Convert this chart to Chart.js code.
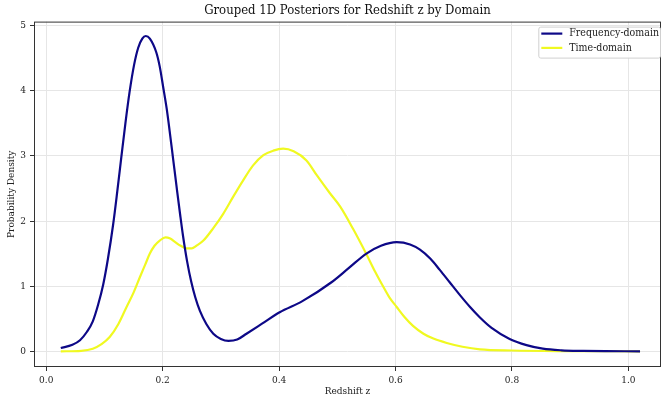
<!DOCTYPE html>
<html>
<head>
<meta charset="utf-8">
<script src="https://cdn.jsdelivr.net/npm/chart.js@4.4.0/dist/chart.umd.min.js"></script>
<style>
  html, body { margin: 0; padding: 0; background: #fff; }
</style>
</head>
<body>
<canvas id="posteriorChart" width="663" height="398"></canvas>
<script>
// Frequency-domain posterior
const freqZ = [0.025, 0.045, 0.058, 0.07, 0.08, 0.089, 0.098, 0.106, 0.115, 0.122, 0.129, 0.136, 0.143, 0.151, 0.158, 0.165, 0.171, 0.178, 0.189, 0.195, 0.201, 0.207, 0.212, 0.218, 0.224, 0.23, 0.235, 0.242, 0.249, 0.256, 0.264, 0.275, 0.287, 0.3, 0.313, 0.328, 0.344, 0.37, 0.401, 0.44, 0.49, 0.52, 0.55, 0.575, 0.602, 0.625, 0.642, 0.66, 0.676, 0.693, 0.71, 0.728, 0.745, 0.765, 0.796, 0.825, 0.853, 0.885, 0.922, 0.96, 1.02];
const freqDensity = [0.05, 0.1, 0.17, 0.3, 0.46, 0.71, 1.03, 1.42, 1.95, 2.45, 2.98, 3.5, 3.97, 4.4, 4.66, 4.8, 4.84, 4.8, 4.59, 4.37, 4.05, 3.72, 3.38, 2.95, 2.52, 2.1, 1.77, 1.38, 1.07, 0.83, 0.62, 0.42, 0.27, 0.19, 0.16, 0.18, 0.27, 0.42, 0.6, 0.77, 1.06, 1.28, 1.5, 1.62, 1.675, 1.64, 1.56, 1.42, 1.25, 1.06, 0.87, 0.68, 0.52, 0.36, 0.19, 0.095, 0.04, 0.015, 0.006, 0.002, 0.0];

// Time-domain posterior
const timeZ = [0.025, 0.06, 0.08, 0.095, 0.109, 0.124, 0.138, 0.15, 0.161, 0.17, 0.178, 0.186, 0.195, 0.205, 0.213, 0.221, 0.231, 0.241, 0.25, 0.258, 0.27, 0.287, 0.304, 0.321, 0.338, 0.355, 0.373, 0.39, 0.407, 0.425, 0.447, 0.465, 0.487, 0.505, 0.527, 0.55, 0.565, 0.579, 0.59, 0.602, 0.615, 0.63, 0.648, 0.665, 0.688, 0.715, 0.745, 0.8, 0.9, 1.02];
const timeDensity = [0.0, 0.008, 0.04, 0.11, 0.22, 0.42, 0.68, 0.9, 1.14, 1.33, 1.5, 1.62, 1.7, 1.75, 1.73, 1.68, 1.62, 1.58, 1.58, 1.62, 1.7, 1.89, 2.11, 2.37, 2.62, 2.85, 3.01, 3.08, 3.11, 3.07, 2.93, 2.7, 2.43, 2.22, 1.88, 1.49, 1.22, 0.99, 0.82, 0.68, 0.53, 0.39, 0.27, 0.195, 0.128, 0.07, 0.03, 0.012, 0.003, 0.0];

const seriesLabels = ['Frequency-domain', 'Time-domain'];
const xTicks = [0.0, 0.2, 0.4, 0.6, 0.8, 1.0];
const yTicks = [0, 1, 2, 3, 4, 5];

const FONT = "'DejaVu Serif Condensed', 'Liberation Serif', serif";
Chart.defaults.font.family = FONT;
Chart.defaults.color = '#222';

function toPoints(xs, ys) {
    return xs.map((x, i) => ({ x: x, y: ys[i] }));
}

// matplotlib-style full frame around the plot
const framePlugin = {
    id: 'frame',
    afterDatasetsDraw(chart) {
        const { ctx, chartArea: a } = chart;
        ctx.save();
        ctx.strokeStyle = '#333';
        ctx.lineWidth = 1;
        ctx.strokeRect(a.left + 0.5, a.top + 0.5, a.right - a.left - 1, a.bottom - a.top - 1);
        ctx.restore();
    }
};

// legend inside the upper-right corner
const innerLegend = {
    id: 'innerLegend',
    afterDraw(chart) {
        const { ctx, chartArea: a } = chart;
        ctx.save();
        ctx.font = "10.5px " + FONT;
        const sets = chart.data.datasets;
        let textW = 0;
        sets.forEach(d => { textW = Math.max(textW, ctx.measureText(d.label).width); });
        const lineLen = 21, gap = 7, padL = 3, padR = 2, rowH = 14.3;
        const w = padL + lineLen + gap + textW + padR;
        const h = 31;
        const x0 = a.right - w, y0 = a.top + 5;
        ctx.fillStyle = 'rgba(255,255,255,0.85)';
        ctx.strokeStyle = '#d0d0d0';
        ctx.lineWidth = 1;
        ctx.beginPath();
        ctx.roundRect(x0 + 0.5, y0 + 0.5, w - 1, h, 2);
        ctx.fill();
        ctx.stroke();
        sets.forEach((d, i) => {
            const cy = y0 + 7 + rowH * i;
            ctx.strokeStyle = d.borderColor;
            ctx.lineWidth = 2.2;
            ctx.beginPath();
            ctx.moveTo(x0 + padL, cy);
            ctx.lineTo(x0 + padL + lineLen, cy);
            ctx.stroke();
            ctx.fillStyle = '#222';
            ctx.textBaseline = 'middle';
            ctx.fillText(d.label, x0 + padL + lineLen + gap, cy);
        });
        ctx.restore();
    }
};

const ctx = document.getElementById('posteriorChart').getContext('2d');
const posteriorChart = new Chart(ctx, {
    type: 'line',
    data: {
        datasets: [
            {
                label: seriesLabels[0],
                data: toPoints(freqZ, freqDensity),
                borderColor: '#0d0887',
                borderWidth: 2.2,
                pointRadius: 0,
                cubicInterpolationMode: 'monotone',
                fill: false
            },
            {
                label: seriesLabels[1],
                data: toPoints(timeZ, timeDensity),
                borderColor: '#f0f921',
                borderWidth: 2.2,
                pointRadius: 0,
                cubicInterpolationMode: 'monotone',
                fill: false
            }
        ]
    },
    options: {
        responsive: false,
        animation: false,
        devicePixelRatio: 1,
        layout: { padding: { left: 0, right: 2, top: 0, bottom: 0 } },
        plugins: {
            legend: { display: false },
            tooltip: { enabled: false },
            title: {
                display: true,
                fullSize: false,
                text: 'Grouped 1D Posteriors for Redshift z by Domain',
                font: { size: 13, weight: 'normal' },
                color: '#111',
                padding: { top: 3, bottom: 3 }
            }
        },
        scales: {
            x: {
                type: 'linear',
                min: -0.021,
                max: 1.056,
                afterBuildTicks: scale => { scale.ticks = xTicks.map(v => ({ value: v })); },
                afterFit: scale => { scale.height = 31; },
                ticks: {
                    font: { size: 10 },
                    padding: 3,
                    callback: v => v.toFixed(1)
                },
                grid: { color: '#e6e6e6', tickColor: '#333', tickLength: 4 },
                border: { display: false },
                title: { display: true, text: 'Redshift z', font: { size: 10 }, padding: { top: 0, bottom: 1 } }
            },
            y: {
                type: 'linear',
                min: -0.241,
                max: 5.061,
                afterBuildTicks: scale => { scale.ticks = yTicks.map(v => ({ value: v })); },
                afterFit: scale => { scale.width = 34; },
                ticks: { font: { size: 10 }, padding: 4 },
                grid: { color: '#e6e6e6', tickColor: '#333', tickLength: 4 },
                border: { display: false },
                title: { display: true, text: 'Probability Density', font: { size: 10 }, padding: { top: 5, bottom: 0 } }
            }
        }
    },
    plugins: [framePlugin, innerLegend]
});
</script>
</body>
</html>
